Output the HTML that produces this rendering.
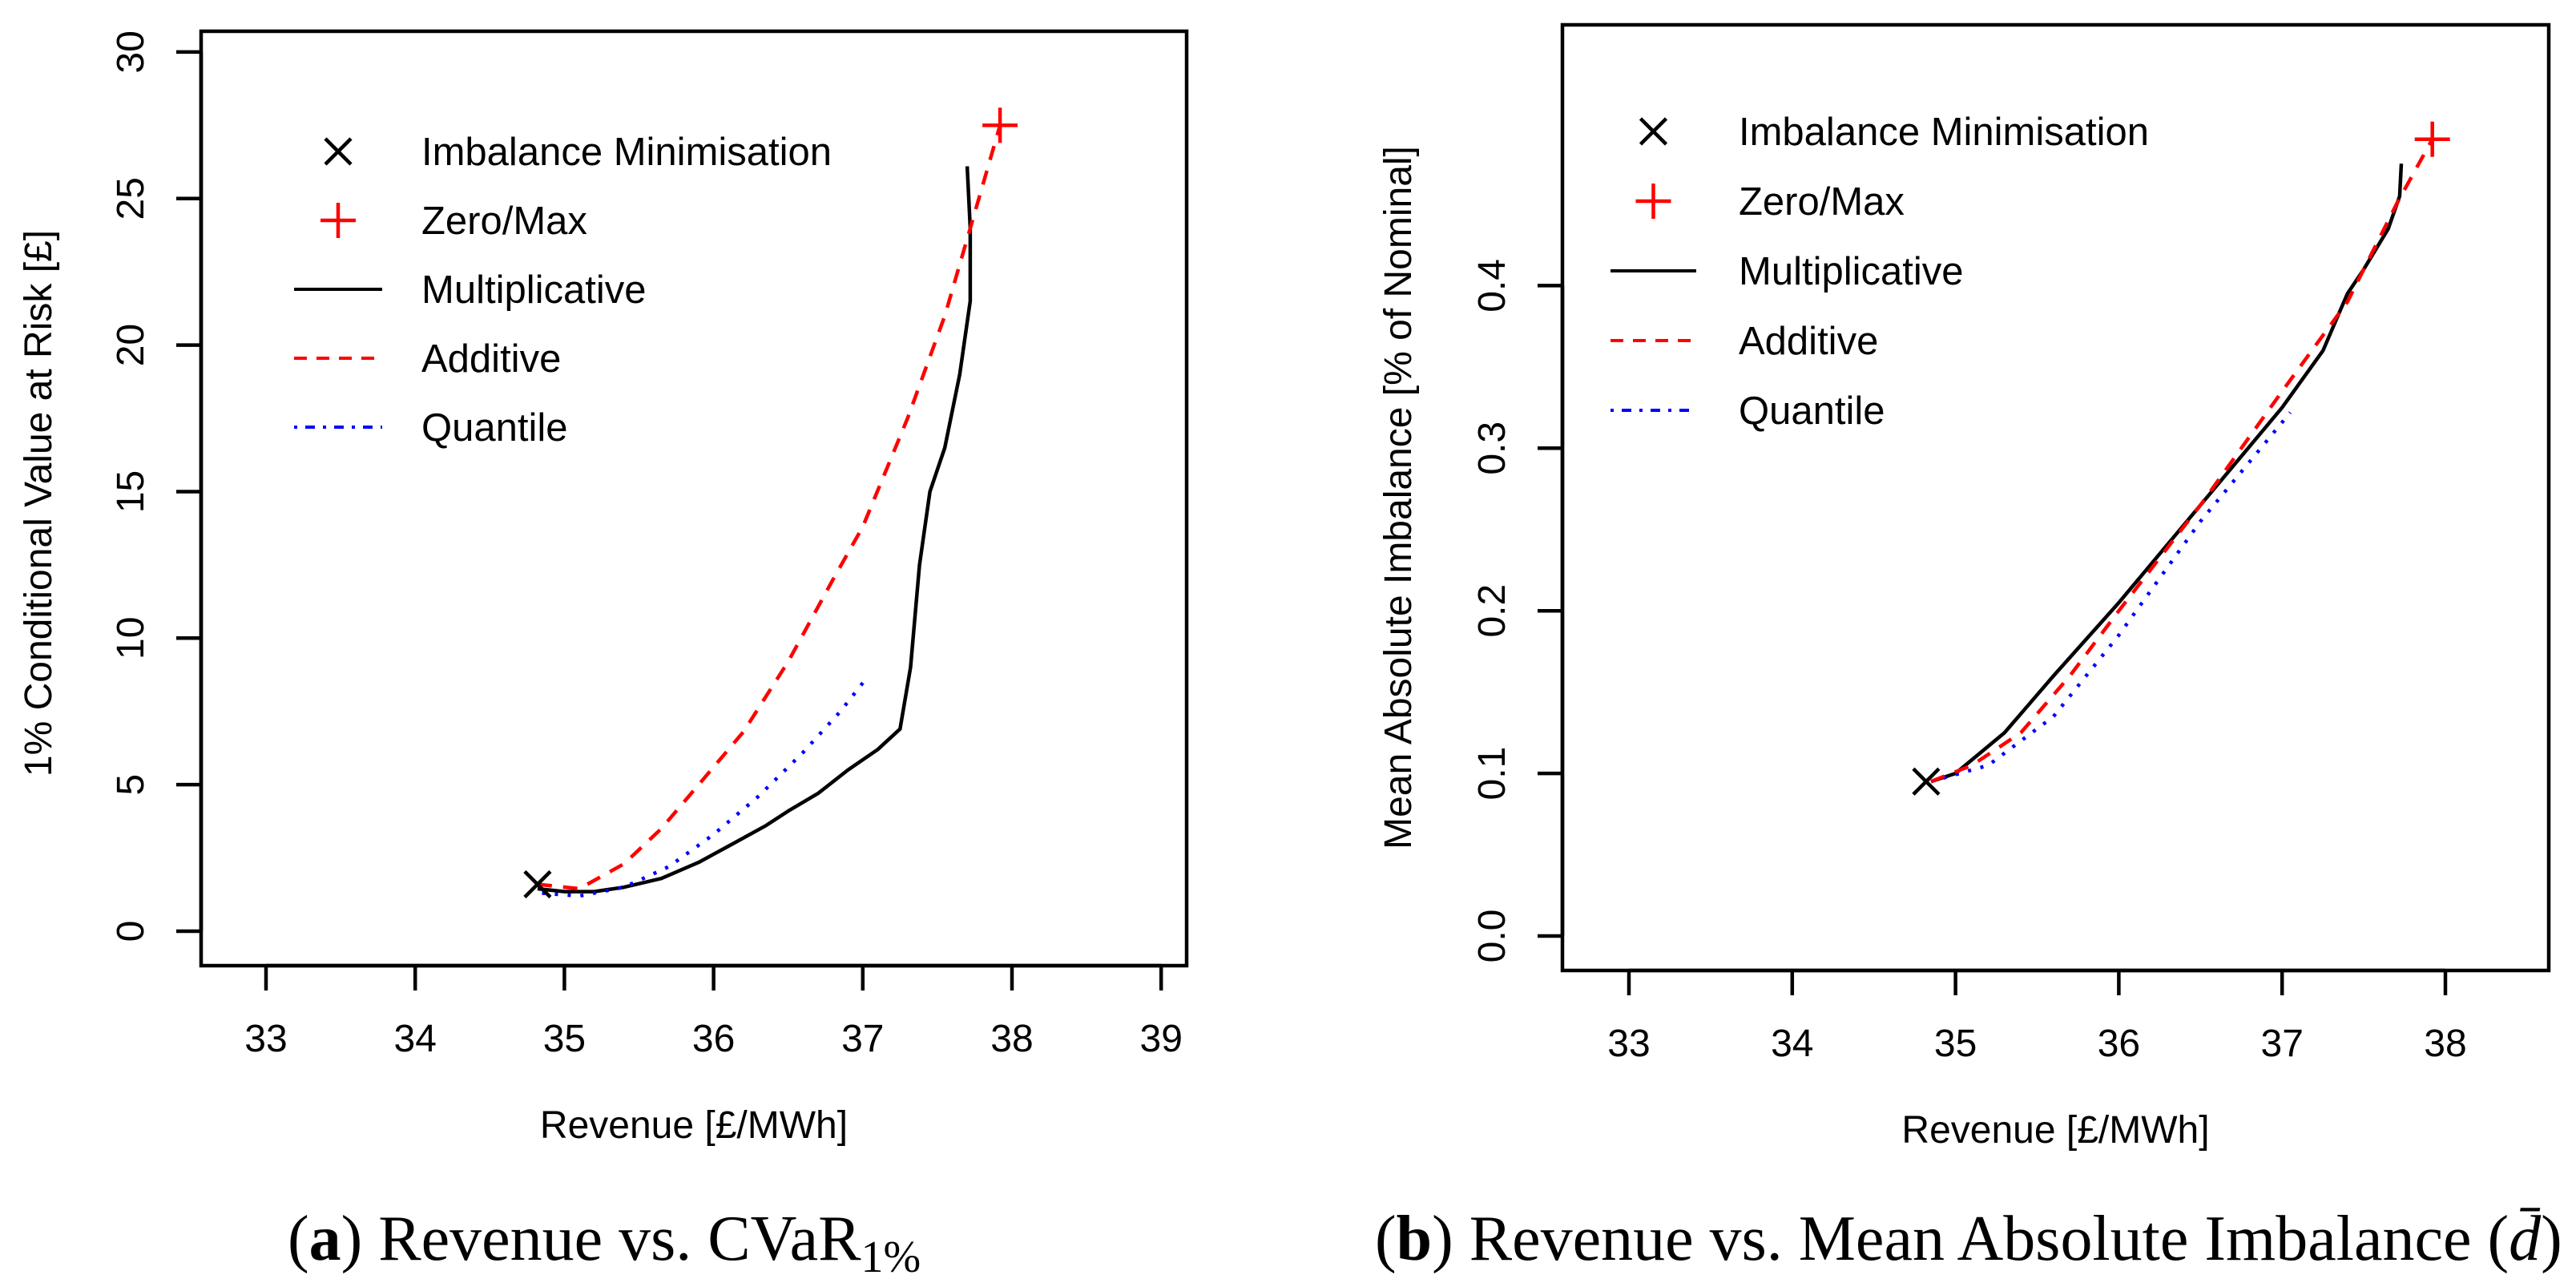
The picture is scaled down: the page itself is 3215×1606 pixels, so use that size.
<!DOCTYPE html>
<html><head><meta charset="utf-8"><style>
html,body{margin:0;padding:0;background:#fff;}
svg{display:block;}
text{font-family:"Liberation Sans",sans-serif;}
.cap{font-family:"Liberation Serif",serif;font-size:80px;}
</style></head><body>
<svg id="s" width="3215" height="1606" viewBox="0 0 3215 1606">
<text class="cap" x="359" y="1572">(<tspan font-weight="bold">a</tspan>) Revenue vs. CVaR<tspan font-size="56" dy="15">1%</tspan></text>
<text class="cap" x="1716" y="1572">(<tspan font-weight="bold">b</tspan>) Revenue vs. Mean Absolute Imbalance (<tspan font-style="italic">d̄</tspan>)</text>
</svg>
<script>
// Panel A data
const aMultX=[34.82,35.0,35.2,35.4,35.65,35.9,36.1,36.35,36.5,36.7,36.9,37.1,37.25,37.32,37.38,37.45,37.55,37.65,37.72,37.72,37.7];
const aMultY=[1.45,1.35,1.35,1.5,1.8,2.35,2.9,3.6,4.1,4.7,5.5,6.2,6.9,9,12.5,15,16.5,19,21.5,24,26.1];
const aAddX=[34.82,35.1,35.4,35.65,35.9,36.2,36.5,36.8,37.0,37.3,37.55,37.75,37.92];
const aAddY=[1.6,1.45,2.3,3.5,5,6.8,9.2,12,13.8,17.5,21,24.5,27.5];
const aQuaX=[34.85,35.1,35.4,35.7,36.0,36.3,36.6,36.85,37.02];
const aQuaY=[1.3,1.2,1.5,2.2,3.3,4.6,6.1,7.5,8.6];
const aImb=[34.82,1.6];
const aZero=[37.92,27.5];
const aXTicks=[33,34,35,36,37,38,39];
const aYTicks=[0,5,10,15,20,25,30];
// Panel B data
const bMultX=[34.85,35.0,35.3,35.6,36.0,36.5,37.0,37.25,37.4,37.5,37.65,37.72,37.73];
const bMultY=[0.095,0.1,0.125,0.16,0.205,0.265,0.325,0.36,0.395,0.41,0.435,0.455,0.475];
const bAddX=[34.85,35.1,35.4,35.7,36.0,36.5,37.0,37.4,37.7,37.92];
const bAddY=[0.095,0.105,0.125,0.16,0.2,0.265,0.335,0.39,0.45,0.49];
const bQuaX=[34.85,35.2,35.6,36.0,36.5,37.05];
const bQuaY=[0.095,0.105,0.135,0.185,0.255,0.322];
const bImb=[34.82,0.095];
const bZero=[37.92,0.49];
const bXTicks=[33,34,35,36,37,38];
const bYTicks=[0.0,0.1,0.2,0.3,0.4];

const NS="http://www.w3.org/2000/svg";
const svg=document.getElementById('s');
function mk(tag,attrs,parent){const e=document.createElementNS(NS,tag);for(const k in attrs)e.setAttribute(k,attrs[k]);(parent||svg).appendChild(e);return e;}

function panel(P){
  const g=mk('g',{});
  
  
  const sx=v=>P.x0+(v-P.xa)*P.kx, sy=v=>P.y0-(v-P.ya)*P.ky;
  const box=mk('rect',{x:P.L,y:P.T,width:P.R-P.L,height:P.B-P.T,fill:'none',stroke:'#000','stroke-width':4.5},g);
  
  
  const xa=mk('line',{x1:sx(P.xt[0]),x2:sx(P.xt[P.xt.length-1]),y1:P.B,y2:P.B,stroke:'#000','stroke-width':4.5},g);
  
  
  P.xt.forEach(v=>{
    const t=mk('line',{x1:sx(v),x2:sx(v),y1:P.B,y2:P.B+31,stroke:'#000','stroke-width':4.5},g);
    
    
    const l=mk('text',{x:sx(v),y:P.B+107,'font-size':48,'text-anchor':'middle'},g);
    l.textContent=String(v);
    
    
  });
  P.yt.forEach(v=>{
    const t=mk('line',{x1:P.L,x2:P.L-31,y1:sy(v),y2:sy(v),stroke:'#000','stroke-width':4.5},g);
    
    
    const l=mk('text',{x:0,y:0,'font-size':48,'text-anchor':'middle',transform:`translate(${P.L-72},${sy(v)}) rotate(-90)`},g);
    l.textContent=P.yfmt(v);
    
    
  });
  const ya=mk('line',{x1:P.L,x2:P.L,y1:sy(P.yt[0]),y2:sy(P.yt[P.yt.length-1]),stroke:'#000','stroke-width':4.5},g);
  
  
  const xt=mk('text',{x:(P.L+P.R)/2,y:P.B+215,'font-size':48,'text-anchor':'middle'},g);
  xt.textContent='Revenue [£/MWh]';
  
  
  const yt=mk('text',{x:0,y:0,'font-size':48,'text-anchor':'middle',transform:`translate(${P.ytx},${P.yty}) rotate(-90)`},g);
  yt.textContent=P.ytitle;
  
  
  function line(X,Y,col,dash,nm){
    const d=X.map((v,i)=>(i?'L':'M')+sx(v).toFixed(1)+','+sy(Y[i]).toFixed(1)).join('');
    const p=mk('path',{d:d,fill:'none',stroke:col,'stroke-width':4.5,'stroke-dasharray':dash,'stroke-linejoin':'round'},g);
    
    
  }
  line(P.mx,P.my,'#000','none','multiplicative-line');
  line(P.qx,P.qy,'#00f','4 12 4 12','quantile-line');
  line(P.ax,P.ay,'#f00','18 14','additive-line');
  function cross(cx,cy,col,plus,nm){
    const r=plus?22:16;
    const gg=mk('g',{stroke:col,'stroke-width':4.5},g);
    
    
    if(plus){mk('line',{x1:cx-r,x2:cx+r,y1:cy,y2:cy},gg);mk('line',{x1:cx,x2:cx,y1:cy-r,y2:cy+r},gg);}
    else{mk('line',{x1:cx-r,x2:cx+r,y1:cy-r,y2:cy+r},gg);mk('line',{x1:cx-r,x2:cx+r,y1:cy+r,y2:cy-r},gg);}
  }
  cross(sx(P.imb[0]),sy(P.imb[1]),'#000',false,'imbalance-minimisation-point');
  cross(sx(P.zero[0]),sy(P.zero[1]),'#f00',true,'zero-max-point');
  const labels=['Imbalance Minimisation','Zero/Max','Multiplicative','Additive','Quantile'];
  labels.forEach((s,i)=>{
    const y=P.ly+i*P.ld;
    const cx=(P.lx1+P.lx2)/2;
    if(i==0)cross(cx,y,'#000',false,'legend-imbalance-symbol');
    if(i==1)cross(cx,y,'#f00',true,'legend-zero-max-symbol');
    if(i>=2){
      const st=[['#000','none'],['#f00','16 12'],['#00f','4 10 12 10']][i-2];
      const l=mk('line',{x1:P.lx1,x2:P.lx2,y1:y,y2:y,stroke:st[0],'stroke-width':4,'stroke-dasharray':st[1]},g);
      
      
    }
    const t=mk('text',{x:P.ltx,y:y+17,'font-size':49},g);
    t.textContent=s;
    
    
  });
}
panel({name:'panel-a-cvar',L:251,R:1481,T:39,B:1205,xa:33,x0:332,kx:186.2,ya:0,y0:1162,ky:36.57,
  xt:aXTicks,yt:aYTicks,yfmt:v=>String(v),ytitle:'1% Conditional Value at Risk [£]',ytx:64,yty:628,
  mx:aMultX,my:aMultY,ax:aAddX,ay:aAddY,qx:aQuaX,qy:aQuaY,imb:aImb,zero:aZero,
  lx1:367,lx2:477,ly:189,ld:86,ltx:526});
panel({name:'panel-b-imbalance',L:1950,R:3181,T:31,B:1211,xa:33,x0:2033,kx:203.8,ya:0,y0:1168,ky:2029,
  xt:bXTicks,yt:bYTicks,yfmt:v=>v.toFixed(1),ytitle:'Mean Absolute Imbalance [% of Nominal]',ytx:1761,yty:621,
  mx:bMultX,my:bMultY,ax:bAddX,ay:bAddY,qx:bQuaX,qy:bQuaY,imb:bImb,zero:bZero,
  lx1:2010,lx2:2117,ly:164,ld:87,ltx:2170});
</script>
</body></html>
